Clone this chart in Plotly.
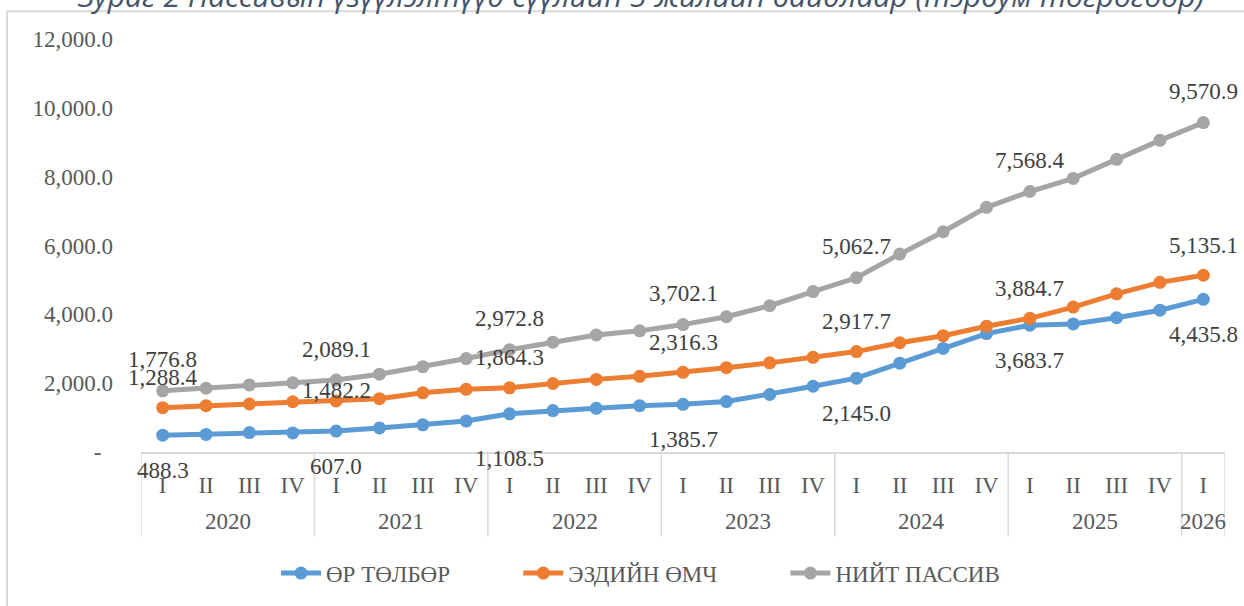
import plotly.graph_objects as go

# ---------------- data ----------------
years = ["2020", "2021", "2022", "2023", "2024", "2025", "2026"]
quarters_in_year = [4, 4, 4, 4, 4, 4, 1]
quarter_names = ["I", "II", "III", "IV"]

debt = [488.3, 510, 565, 555, 607.0, 700, 790, 900,
        1108.5, 1205, 1270, 1345, 1385.7, 1465, 1670, 1910,
        2145.0, 2580, 3010, 3440, 3683.7, 3720, 3900, 4120, 4435.8]
equity = [1288.4, 1345, 1395, 1460, 1482.2, 1550, 1720, 1820,
          1864.3, 1990, 2110, 2200, 2316.3, 2450, 2590, 2750,
          2917.7, 3175, 3380, 3655, 3884.7, 4210, 4595, 4930, 5135.1]
total = [1776.8, 1855, 1950, 2010, 2089.1, 2260, 2480, 2715,
         2972.8, 3190, 3400, 3520, 3702.1, 3930, 4250, 4660,
         5062.7, 5750, 6400, 7110, 7568.4, 7950, 8505, 9055, 9570.9]

series_names = ["ӨР ТӨЛБӨР", "ЭЗДИЙН ӨМЧ", "НИЙТ ПАССИВ"]
y_ticks = [0, 2000, 4000, 6000, 8000, 10000, 12000]
title_text = "Зураг 2 Пассивын үзүүлэлтүүд сүүлийн 5 жилийн байдлаар (тэрбум төгрөгөөр)"

# ---------------- styles ----------------
colors = ["#5B9BD5", "#ED7D31", "#A5A5A5"]
label_shift = [-35, 30, 31]
shift_override = {(1, 4): 10, (0, 8): -45}
serif = "Liberation Serif, Times New Roman, serif"
axis_grey = "#595959"
label_grey = "#404040"
line_grey = "#D9D9D9"
FS = 23

# category positions
x_q, group_bounds = [], []
start = 0
for y, n in zip(years, quarters_in_year):
    for k in range(n):
        x_q.append(quarter_names[k])
    group_bounds.append((start, start + n - 1))
    start += n
x_idx = list(range(len(x_q)))

# plot area pixel layout
L, R, T, B = 141, 19, 39, 151
W, H = 1244, 606
pw, ph = W - L - R, H - T - B

def px_x(p):
    return (p - L) / pw

def px_y(p):
    return (H - B - p) / ph

fig = go.Figure()
all_series = [debt, equity, total]
for s, (name, vals, col) in enumerate(zip(series_names, all_series, colors)):
    pad = "\u00a0" * 11 if s < len(series_names) - 1 else ""
    fig.add_trace(go.Scatter(
        x=x_idx, y=vals, name=name + pad, mode="lines+markers",
        line=dict(color=col, width=5),
        marker=dict(color=col, size=13),
        hoverinfo="skip",
    ))

annotations = []
for s, vals in enumerate(all_series):
    for i, v in enumerate(vals):
        if x_q[i] == "I":
            annotations.append(dict(
                x=i, y=v, xref="x", yref="y", text=f"{v:,.1f}",
                showarrow=False, yshift=shift_override.get((s, i), label_shift[s]),
                font=dict(family=serif, size=FS, color=label_grey),
            ))

shapes = [dict(type="rect", xref="paper", yref="paper",
               x0=px_x(7), x1=px_x(1260), y0=px_y(640), y1=px_y(11),
               line=dict(color=line_grey, width=2), fillcolor="rgba(0,0,0,0)", layer="below")]

for yr, (a, b) in zip(years, group_bounds):
    annotations.append(dict(
        x=(a + b) / 2, y=px_y(525), xref="x", yref="paper", text=yr,
        showarrow=False, yanchor="middle",
        font=dict(family=serif, size=FS, color=axis_grey),
    ))
edges = [a - 0.5 for a, b in group_bounds] + [group_bounds[-1][1] + 0.5]
for e in edges:
    shapes.append(dict(type="line", xref="x", yref="paper", x0=e, x1=e,
                       y0=0, y1=px_y(540), line=dict(color=line_grey, width=1.5)))

fig.update_layout(
    width=W, height=H,
    margin=dict(l=L, r=R, t=T, b=B),
    paper_bgcolor="white", plot_bgcolor="white",
    title=dict(text=title_text, x=641 / W, xanchor="center",
               xref="container", yref="container", y=1 - 7 / H, yanchor="bottom",
               font=dict(family="Open Sans, sans-serif", size=30, color="#44546A", style="italic")),
    showlegend=True,
    legend=dict(orientation="h", x=px_x(276), xanchor="left", y=px_y(577), yanchor="middle",
                font=dict(family=serif, size=FS, color=axis_grey), itemwidth=40,
                bgcolor="rgba(0,0,0,0)"),
    annotations=annotations,
    shapes=shapes,
)

fig.update_xaxes(
    range=[-0.5, len(x_q) - 0.5], tickvals=x_idx, ticktext=x_q,
    showline=True, linecolor=line_grey, linewidth=1.5,
    showgrid=False, zeroline=False, ticks="", automargin=False,
    ticklabelstandoff=12,
    tickfont=dict(family=serif, size=FS, color=axis_grey),
)
fig.update_yaxes(
    range=[0, 12000], tickvals=y_ticks,
    ticktext=["-\u00a0\u00a0"] + [f"{v:,.1f}" for v in y_ticks[1:]],
    showgrid=False, zeroline=False, showline=False, ticks="", automargin=False,
    ticklabelstandoff=27,
    tickfont=dict(family=serif, size=FS, color=axis_grey),
)

fig.write_html("out.html", config={"displayModeBar": False},
               post_script="document.body.style.margin='0';")
